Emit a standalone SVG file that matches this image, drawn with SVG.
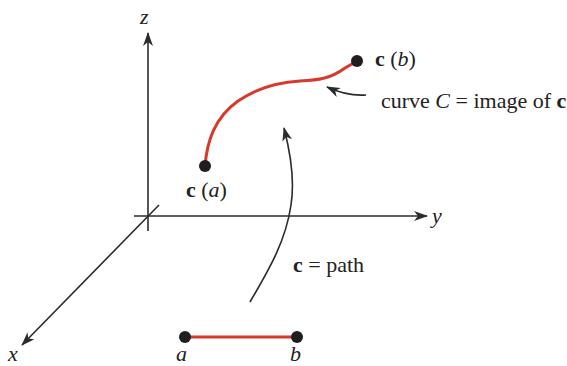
<svg xmlns="http://www.w3.org/2000/svg" width="567" height="366" viewBox="0 0 567 366">
<defs>
<marker id="ah" viewBox="0 0 14 10" refX="13" refY="5" markerWidth="14" markerHeight="10" markerUnits="userSpaceOnUse" orient="auto">
<path d="M0,0 L14,5 L0,10 L4,5 Z" fill="#2b2b2b"/>
</marker>
</defs>
<style>
.ax{stroke:#2b2b2b;stroke-width:1.6;fill:none}
.red{stroke:#d63a2a;stroke-width:3;fill:none;stroke-linecap:round}
.dot{fill:#1e1e1e}
.t{font-family:"Liberation Serif","Times New Roman",serif;font-size:22px;fill:#222}
.i{font-style:italic}
.b{font-weight:bold}
</style>
<rect width="567" height="366" fill="#ffffff"/>
<g id="connectors">
<line class="ax" x1="148" y1="231" x2="148" y2="33" marker-end="url(#ah)"/>
<line class="ax" x1="134" y1="216" x2="427" y2="216" marker-end="url(#ah)"/>
<line class="ax" x1="159" y1="205" x2="22" y2="345" marker-end="url(#ah)"/>
<path class="ax" d="M250,302 C270,268 286,240 291,205 C295,180 291,155 284,128" marker-end="url(#ah)"/>
<path class="ax" d="M366,95 C352,96 340,93 327,87" marker-end="url(#ah)"/>
</g>
<g id="curve">
<path class="red" d="M205,166 C207,142 214,118 238,101 C260,86 282,82 300,81 C318,80 330,79 345,68 L357,61"/>
<circle class="dot" cx="205" cy="166" r="6"/>
<circle class="dot" cx="357" cy="61" r="6"/>
</g>
<g id="segment">
<line class="red" x1="185" y1="337" x2="297" y2="337"/>
<circle class="dot" cx="185" cy="337" r="6"/>
<circle class="dot" cx="297" cy="337" r="6"/>
</g>
<g id="labels">
<text class="t i" x="140" y="24">z</text>
<text class="t i" x="432" y="223">y</text>
<text class="t i" x="8" y="361">x</text>
<text class="t" x="186" y="197"><tspan class="b">c</tspan> (<tspan class="i">a</tspan>)</text>
<text class="t" x="375" y="66"><tspan class="b">c</tspan> (<tspan class="i">b</tspan>)</text>
<text class="t" x="381" y="108">curve <tspan class="i">C</tspan> = image of <tspan class="b">c</tspan></text>
<text class="t" x="293" y="272"><tspan class="b">c</tspan> = path</text>
<text class="t i" x="176" y="361">a</text>
<text class="t i" x="290" y="361">b</text>
</g>
</svg>
